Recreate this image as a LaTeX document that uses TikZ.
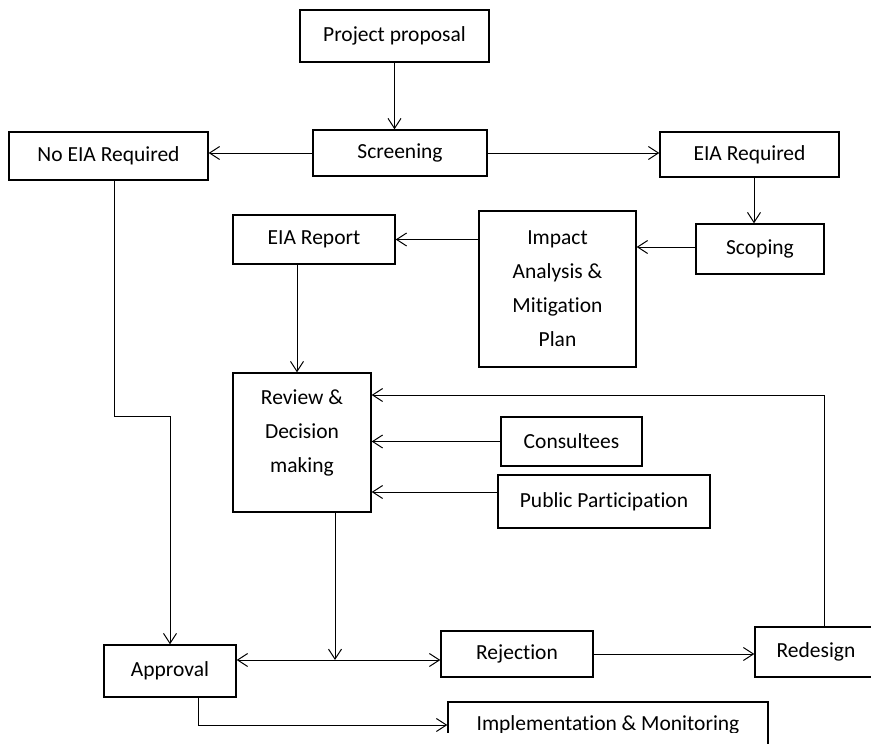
\documentclass[tikz,border=0pt]{standalone}
\usepackage{fontspec}
\setmainfont{Carlito}[Ligatures=NoCommon]
\usetikzlibrary{arrows.meta}

\begin{document}
\begin{tikzpicture}[x=1pt, y=-1pt, >={Straight Barb[length=10pt,width=13pt]},
    box/.style={draw, line width=1.4pt, inner sep=0pt, align=center,
      font=\fontsize{21.5}{34}\selectfont},
    flow/.style={->, line width=1pt}]
  \useasboundingbox (0,0) rectangle (871,744);
  % top row
  \node[box, minimum width=189pt, minimum height=52pt] (proposal) at (394.5,36) {Project proposal};
  \node[box, minimum width=174pt, minimum height=46pt] (screening) at (400,153) {Screening};
  \node[box, minimum width=199pt, minimum height=48pt] (noeia) at (108.5,156) {No EIA Required};
  \node[box, minimum width=179pt, minimum height=45pt] (eiareq) at (749.5,154.5) {EIA Required};
  % EIA branch
  \node[box, minimum width=128pt, minimum height=50pt] (scoping) at (760,249) {Scoping};
  \node[box, minimum width=157pt, minimum height=156pt] (impact) at (557.5,289) {Impact\\ Analysis \&\\ Mitigation\\ Plan};
  \node[box, minimum width=162pt, minimum height=49pt] (report) at (314,239.5) {EIA Report};
  \node[box, minimum width=138pt, minimum height=139pt] (review) at (302,442.5) {Review \&\\ Decision\\ making\\[-12pt]\mbox{}};
  \node[box, minimum width=141pt, minimum height=49pt] (consult) at (571.5,441.5) {Consultees};
  \node[box, minimum width=212pt, minimum height=53pt] (public) at (604,501.5) {Public Participation};
  % outcomes
  \node[box, minimum width=132pt, minimum height=52pt] (approval) at (170,671) {Approval};
  \node[box, minimum width=152pt, minimum height=46pt] (rejection) at (517,654) {Rejection};
  \node[box, minimum width=122pt, minimum height=50pt] (redesign) at (816,652) {Redesign};
  \node[box, minimum width=320pt, minimum height=46pt] (impl) at (608,725) {Implementation \& Monitoring};
  \coordinate (split) at (335,660);
  \coordinate (loop) at (824,395);
  % connectors
  \draw[flow] (proposal.south) -- (proposal.south |- screening.north);
  \draw[flow] (screening.west) -- (screening.west -| noeia.east);
  \draw[flow] (screening.east) -- (screening.east -| eiareq.west);
  \draw[flow] ([xshift=4.5pt]eiareq.south) -- ([xshift=4.5pt]eiareq.south |- scoping.north);
  \draw[flow] ([yshift=2pt]scoping.west) -- ([yshift=2pt]scoping.west -| impact.east);
  \draw[flow] (impact.west |- report.east) -- (report.east);
  \draw[flow] ([xshift=-5pt]review.north |- report.south) -- ([xshift=-5pt]review.north);
  \draw[flow] ([xshift=5.5pt]noeia.south) -- ++(0,236) -| (approval.north);
  \draw[flow] (consult.west) -- (consult.west -| review.east);
  \draw[flow] ([yshift=9.5pt]public.west) -- ([yshift=9.5pt]public.west -| review.east);
  \draw[flow] (review.south -| split) -- (split);
  \draw[flow, <->] (approval.east |- split) -- (rejection.west |- split);
  \draw[flow] (rejection.east) -- (rejection.east -| redesign.west);
  \draw[flow] (redesign.north -| loop) -- (loop) -- (loop -| review.east);
  \draw[flow] ([xshift=28pt]approval.south) |- (impl.west);
  % cut-off strip at the foot
  \fill[white] (0,733) rectangle (762,744);
\end{tikzpicture}
\end{document}
